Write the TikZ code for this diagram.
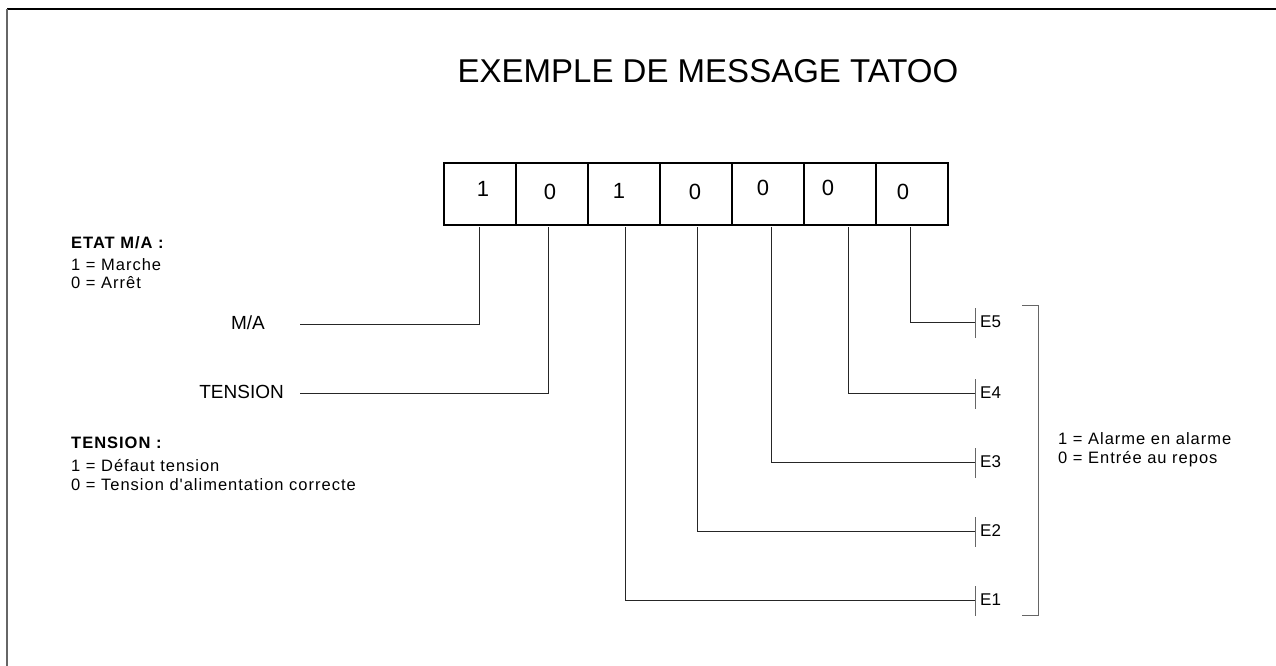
\documentclass[tikz,border=0pt]{standalone}
\usepackage{fontspec}
\setmainfont{Liberation Sans}
\newfontfamily\spaced[LetterSpace=6]{Liberation Sans}
\begin{document}
\begin{tikzpicture}[x=1pt,y=-1pt,
  cell/.style={draw=black,line width=1.6pt,minimum width=72pt,minimum height=62pt,inner sep=0pt},
  digit/.style={font=\fontsize{22}{22}\selectfont,inner sep=0pt},
  wire/.style={draw=black!85,line width=0.8pt},
  tickmark/.style={draw=black!60,line width=1pt},
  small/.style={font=\spaced\fontsize{16.5}{20}\selectfont,inner sep=0pt,anchor=west},
  lbl/.style={font=\fontsize{17}{17}\selectfont,inner sep=0pt},
  biglbl/.style={font=\fontsize{19}{19}\selectfont,inner sep=0pt}]
\useasboundingbox (0,0) rectangle (1276,666);
% frame
\draw[black,line width=1.2pt] (7,9) -- (1276,9);
\draw[black!60,line width=2pt] (7,9) -- (7,666);
% title
\node[font=\fontsize{33}{35}\selectfont,inner sep=0pt] (title) at (708,71) {EXEMPLE DE MESSAGE TATOO};
% cells
\foreach \i in {0,...,6}{
  \node[cell,anchor=north west] (c\i) at (443+72*\i,162) {};
}
\foreach \i/\v/\x/\y in {0/1/483/189,1/0/550/192,2/1/619/191,3/0/695/192,4/0/763/188,5/0/828/188,6/0/903/192}{
  \node[digit] (d\i) at (\x,\y) {\v};
}
% connector coordinates
\coordinate (m0) at (479,227);
\coordinate (m1) at (548,227);
\coordinate (m2) at (625,227);
\coordinate (m3) at (697,227);
\coordinate (m4) at (771,227);
\coordinate (m5) at (848,227);
\coordinate (m6) at (910,227);
% left labels
\node[biglbl,anchor=east] (ma) at (265,323) {M/A};
\node[biglbl,anchor=east] (tens) at (284,392) {TENSION};
\coordinate (mas) at (300,324);
\coordinate (tss) at (300,393);
\draw[wire] (mas) -- (479,324) -- (m0);
\draw[wire] (tss) -- (548,393) -- (m1);
% E ticks and labels
\foreach \k/\y/\src in {5/322/m6,4/393/m5,3/462/m4,2/531/m3,1/600/m2}{
  \coordinate (t\k) at (975,\y);
  \draw[wire] (\src) |- (t\k);
  \draw[tickmark] (975,\y-14) -- (975,\y+16);
  \node[lbl,anchor=west] (e\k) at (980,\y) {E\k};
}
% bracket
\draw[black!60,line width=1pt] (1022,305) -- (1038,305) -- (1038,615) -- (1022,615);
% right legend
\node[small] (leg1) at (1058,439) {1 = Alarme en alarme};
\node[small] (leg2) at (1058,459) {0 = Entrée au repos};
% left legends
\node[small] (etat) at (71,243) {\textbf{ETAT M/A :}};
\node[small] (etat1) at (71,265) {1 = Marche};
\node[small] (etat0) at (71,283) {0 = Arrêt};
\node[small] (tl) at (71,443) {\textbf{TENSION :}};
\node[small] (tl1) at (71,466) {1 = Défaut tension};
\node[small] (tl0) at (71,485) {0 = Tension d'alimentation correcte};
\end{tikzpicture}
\end{document}
